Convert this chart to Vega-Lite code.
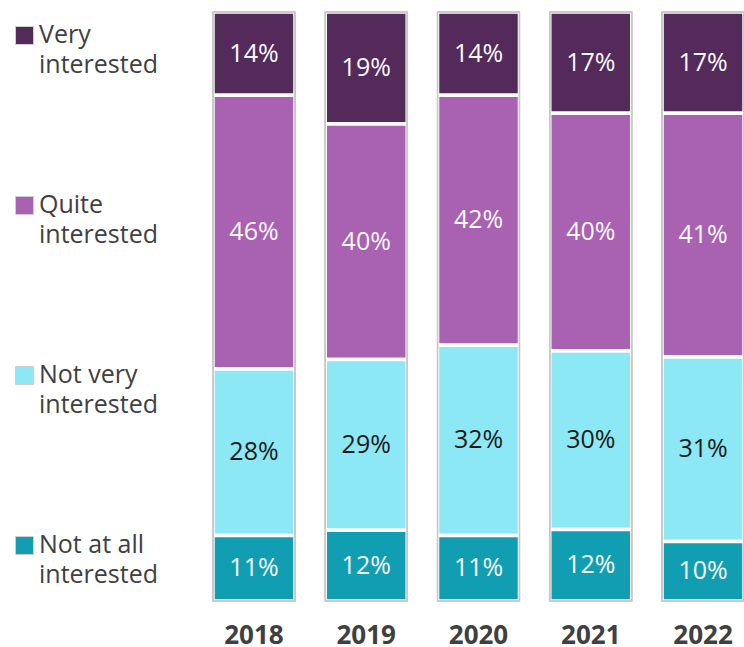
{
  "$schema": "https://vega.github.io/schema/vega-lite/v6.json",
  "padding": {"left": 1, "top": 10, "right": 0, "bottom": 0},
  "width": 531,
  "height": 589,
  "background": "white",
  "config": {
    "view": {"stroke": null},
    "font": "Open Sans",
    "style": {"guide-label": {"lineHeight": 30, "dy": -13}}
  },
  "data": {
    "values": [
      {"year": "2018", "level": "Very interested", "rank": 4, "value": 14},
      {"year": "2018", "level": "Quite interested", "rank": 3, "value": 46},
      {"year": "2018", "level": "Not very interested", "rank": 2, "value": 28},
      {"year": "2018", "level": "Not at all interested", "rank": 1, "value": 11},
      {"year": "2019", "level": "Very interested", "rank": 4, "value": 19},
      {"year": "2019", "level": "Quite interested", "rank": 3, "value": 40},
      {"year": "2019", "level": "Not very interested", "rank": 2, "value": 29},
      {"year": "2019", "level": "Not at all interested", "rank": 1, "value": 12},
      {"year": "2020", "level": "Very interested", "rank": 4, "value": 14},
      {"year": "2020", "level": "Quite interested", "rank": 3, "value": 42},
      {"year": "2020", "level": "Not very interested", "rank": 2, "value": 32},
      {"year": "2020", "level": "Not at all interested", "rank": 1, "value": 11},
      {"year": "2021", "level": "Very interested", "rank": 4, "value": 17},
      {"year": "2021", "level": "Quite interested", "rank": 3, "value": 40},
      {"year": "2021", "level": "Not very interested", "rank": 2, "value": 30},
      {"year": "2021", "level": "Not at all interested", "rank": 1, "value": 12},
      {"year": "2022", "level": "Very interested", "rank": 4, "value": 17},
      {"year": "2022", "level": "Quite interested", "rank": 3, "value": 41},
      {"year": "2022", "level": "Not very interested", "rank": 2, "value": 31},
      {"year": "2022", "level": "Not at all interested", "rank": 1, "value": 10}
    ]
  },
  "encoding": {
    "x": {
      "field": "year",
      "type": "nominal",
      "scale": {"paddingInner": 0.27, "paddingOuter": 0},
      "axis": {
        "title": null,
        "orient": "bottom",
        "domain": false,
        "ticks": false,
        "labelAngle": 0,
        "labelFont": "Open Sans",
        "labelFontWeight": "bold",
        "labelFontSize": 26,
        "labelColor": "#404040",
        "labelPadding": 34
      }
    }
  },
  "layer": [
    {
      "mark": {"type": "bar", "stroke": "white", "strokeWidth": 3.5},
      "encoding": {
        "y": {"field": "value", "type": "quantitative", "stack": "normalize", "axis": null, "scale": {"domain": [0, 1]}},
        "order": {"field": "rank", "type": "quantitative"},
        "color": {
          "field": "level",
          "type": "nominal",
          "scale": {
            "domain": ["Very interested", "Quite interested", "Not very interested", "Not at all interested"],
            "range": ["#532a5a", "#a961b2", "#8ce8f4", "#119eb3"]
          },
          "legend": {
            "title": null,
            "orient": "left",
            "offset": 43,
            "padding": 11,
            "symbolType": "square",
            "symbolSize": 324,
            "symbolStrokeColor": "#cfcfcf",
            "symbolStrokeWidth": 1,
            "labelFont": "Open Sans",
            "labelFontSize": 25,
            "labelColor": "#404040",
            "labelLimit": 300,
            "labelOffset": 2,
            "labelBaseline": "top",
            "rowPadding": 114,
            "labelExpr": "[replace(datum.label, ' interested', ''), 'interested']"
          }
        }
      }
    },
    {
      "mark": {"type": "text", "font": "Open Sans", "fontSize": 25, "baseline": "middle", "text": {"expr": "datum.value + '%'"}},
      "encoding": {
        "y": {"field": "value", "type": "quantitative", "stack": "normalize", "bandPosition": 0.5},
        "order": {"field": "rank", "type": "quantitative"},
        "detail": {"field": "level"},
        "color": {
          "condition": {"test": "datum.level == 'Not very interested'", "value": "#1a1a1a"},
          "value": "#fafafa"
        }
      }
    },
    {
      "mark": {"type": "bar", "fillOpacity": 0, "stroke": "#c8c8c8", "strokeWidth": 1.2},
      "encoding": {
        "y": {"datum": 0, "type": "quantitative"},
        "y2": {"datum": 1}
      }
    }
  ]
}
